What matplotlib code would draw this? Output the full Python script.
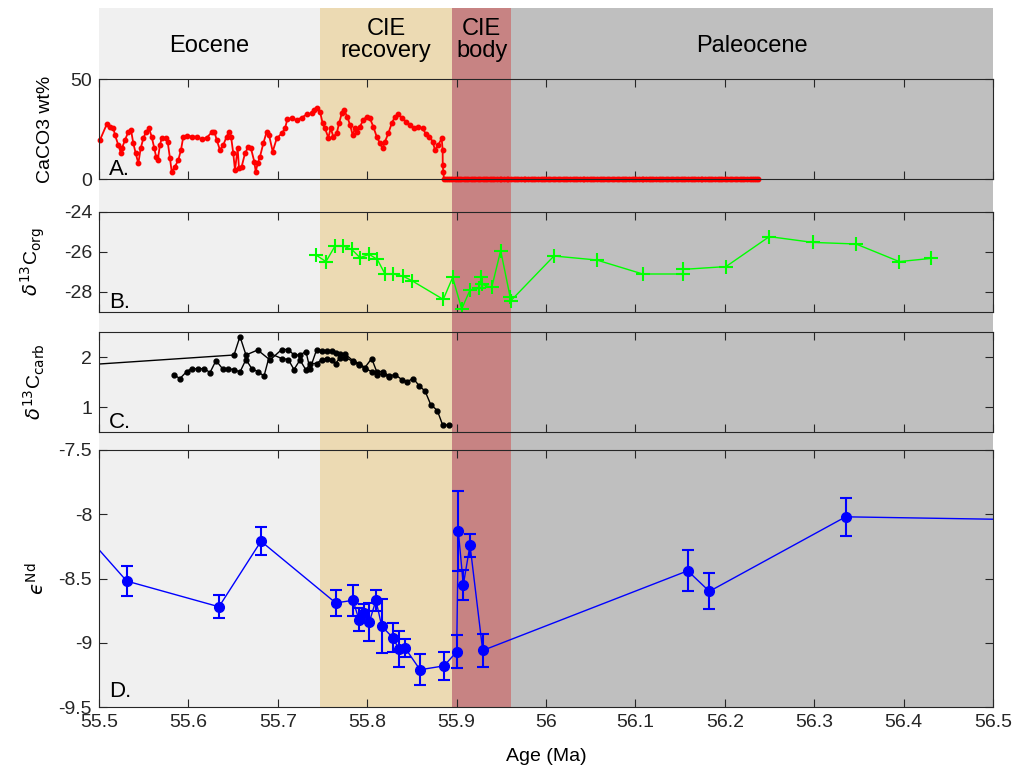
import matplotlib
matplotlib.use('Agg')
import matplotlib.pyplot as plt
import matplotlib.transforms as mtransforms

plt.rcParams['font.family'] = ['Liberation Sans', 'DejaVu Sans']
plt.rcParams['axes.unicode_minus'] = False

# --- background time intervals ---
region_names = ['Eocene', 'CIE\nrecovery', 'CIE\nbody', 'Paleocene']
region_edges = [55.5, 55.747, 55.895, 55.961, 56.5]
region_colors = ['#f0f0f0', '#ecdab3', '#c78383', '#bfbfbf']

# --- A. CaCO3 wt% ---
cc_age = [55.5011, 55.5086, 55.5123, 55.5160, 55.5179, 55.5216, 55.5246, 55.5257, 55.5291, 55.5328,
          55.5358, 55.5384, 55.5411, 55.5440, 55.5466, 55.5496, 55.5526, 55.5559, 55.5589, 55.5619,
          55.5638, 55.5657, 55.5682, 55.5701, 55.5746, 55.5768, 55.5794, 55.5813, 55.5850, 55.5887,
          55.5917, 55.5943, 55.5981, 55.6037, 55.6093, 55.6149, 55.6205, 55.6261, 55.6290, 55.6317,
          55.6353, 55.6390, 55.6428, 55.6454, 55.6477, 55.6502, 55.6521, 55.6551, 55.6566, 55.6596,
          55.6633, 55.6670, 55.6700, 55.6737, 55.6753, 55.6775, 55.6801, 55.6838, 55.6876, 55.6902,
          55.6943, 55.6988, 55.7044, 55.7081, 55.7107, 55.7155, 55.7211, 55.7267, 55.7323, 55.7379,
          55.7408, 55.7442, 55.7472, 55.7502, 55.7528, 55.7565, 55.7592, 55.7621, 55.7659, 55.7685,
          55.7715, 55.7740, 55.7777, 55.7808, 55.7838, 55.7864, 55.7889, 55.7919, 55.7956, 55.7994,
          55.8031, 55.8068, 55.8106, 55.8143, 55.8173, 55.8199, 55.8236, 55.8274, 55.8311, 55.8348,
          55.8386, 55.8434, 55.8479, 55.8523, 55.8572, 55.8621, 55.8658, 55.8695, 55.8733, 55.8758,
          55.8795, 55.8833, 55.8844, 55.8845, 55.8851, 55.8859,
          55.888, 55.890, 55.893, 55.895, 55.898, 55.900, 55.903, 55.905, 55.908, 55.911,
          55.913, 55.916, 55.918, 55.921, 55.924, 55.926, 55.929, 55.932, 55.934, 55.937,
          55.940, 55.942, 55.945, 55.948, 55.950, 55.953, 55.956, 55.958, 55.961, 55.964,
          55.966, 55.969, 55.972, 55.975, 55.977, 55.980, 55.983, 55.986, 55.988, 55.991,
          55.994, 55.997, 55.999, 56.002, 56.005, 56.008, 56.010, 56.013, 56.016, 56.019,
          56.021, 56.024, 56.027, 56.030, 56.032, 56.035, 56.038, 56.041, 56.043, 56.046,
          56.049, 56.052, 56.054, 56.057, 56.060, 56.063, 56.065, 56.068, 56.071, 56.074,
          56.076, 56.079, 56.082, 56.085, 56.087, 56.090, 56.093, 56.096, 56.098, 56.101,
          56.104, 56.107, 56.109, 56.112, 56.115, 56.118, 56.120, 56.123, 56.126, 56.129,
          56.131, 56.134, 56.137, 56.140, 56.142, 56.145, 56.148, 56.151, 56.153, 56.156,
          56.159, 56.162, 56.164, 56.167, 56.170, 56.173, 56.175, 56.178, 56.181, 56.184,
          56.186, 56.189, 56.192, 56.195, 56.197, 56.200, 56.203, 56.206, 56.208, 56.211,
          56.214, 56.217, 56.219, 56.222, 56.225, 56.228, 56.230, 56.233, 56.235, 56.2375]
cc_wt = [19.5, 27.3, 26.0, 25.5, 22.0, 17.0, 12.8, 15.5, 19.5, 23.7,
         24.5, 17.8, 12.8, 7.8, 15.3, 20.3, 23.7, 25.3, 21.2, 15.3,
         11.2, 9.5, 17.0, 20.3, 20.3, 18.7, 10.3, 3.7, 6.2, 9.5,
         14.5, 21.2, 21.7, 21.2, 21.2, 19.8, 20.7, 23.3, 23.7, 19.5,
         14.5, 17.0, 21.2, 23.7, 21.2, 12.8, 4.5, 15.3, 5.3, 6.2,
         12.8, 16.2, 15.3, 8.7, 3.7, 7.8, 11.2, 17.8, 23.7, 22.0,
         13.7, 20.3, 22.8, 25.3, 30.0, 30.3, 29.5, 30.7, 32.3, 32.8,
         34.5, 35.3, 33.7, 27.8, 25.3, 20.7, 25.3, 21.2, 22.8, 27.8,
         32.8, 34.5, 31.2, 27.0, 22.0, 25.3, 23.7, 26.2, 29.5, 31.2,
         30.3, 26.2, 21.2, 17.8, 15.3, 18.7, 22.8, 27.8, 31.2, 32.3,
         30.7, 28.7, 27.0, 25.7, 26.2, 25.3, 22.3, 21.2, 18.7, 14.5,
         17.0, 20.3, 14.5, 7.0, 3.7, 0.0,
         0, 0, 0, 0, 0, 0, 0, 0, 0, 0,
         0, 0, 0, 0, 0, 0, 0, 0, 0, 0,
         0, 0, 0, 0, 0, 0, 0, 0, 0, 0,
         0, 0, 0, 0, 0, 0, 0, 0, 0, 0,
         0, 0, 0, 0, 0, 0, 0, 0, 0, 0,
         0, 0, 0, 0, 0, 0, 0, 0, 0, 0,
         0, 0, 0, 0, 0, 0, 0, 0, 0, 0,
         0, 0, 0, 0, 0, 0, 0, 0, 0, 0,
         0, 0, 0, 0, 0, 0, 0, 0, 0, 0,
         0, 0, 0, 0, 0, 0, 0, 0, 0, 0,
         0, 0, 0, 0, 0, 0, 0, 0, 0, 0,
         0, 0, 0, 0, 0, 0, 0, 0, 0, 0,
         0, 0, 0, 0, 0, 0, 0, 0, 0, 0]

# --- B. d13C org ---
org_age = [55.7427, 55.7539, 55.7640, 55.7733, 55.7827, 55.7919, 55.8023, 55.8113, 55.8199, 55.8292,
           55.8397, 55.8498, 55.8851, 55.8956, 55.9057, 55.9150, 55.9250, 55.9275, 55.9285, 55.9393,
           55.9493, 55.9598, 55.9608, 56.0089, 56.0567, 56.1082, 56.1529, 56.1530, 56.2013, 56.2498,
           56.2983, 56.3468, 56.3952, 56.4306]
org_d13c = [-26.15, -26.48, -25.70, -25.70, -25.87, -26.28, -26.12, -26.37, -27.10, -27.10,
            -27.20, -27.43, -28.37, -27.27, -28.85, -27.90, -27.82, -27.27, -27.62, -27.77,
            -25.93, -28.23, -28.43, -26.20, -26.40, -27.10, -27.10, -26.87, -26.73, -25.23,
            -25.52, -25.60, -26.48, -26.32]

# --- C. d13C carb (two records) ---
carb1_age = [55.40, 55.6510, 55.6577, 55.6644, 55.6775, 55.6913, 55.7044, 55.7117, 55.7181, 55.7248,
             55.7315, 55.7360, 55.7435, 55.7491, 55.7554, 55.7603, 55.7648, 55.7696, 55.7752, 55.7845,
             55.7912, 55.7975, 55.8050, 55.8106, 55.8173, 55.8247, 55.8311, 55.8386, 55.8448, 55.8516,
             55.8583, 55.8647, 55.8710, 55.8784, 55.8844, 55.8915]
carb1_d13c = [1.74, 2.04, 2.41, 2.04, 2.14, 1.94, 2.15, 2.15, 2.04, 2.04,
              2.11, 1.76, 2.15, 2.13, 2.13, 2.12, 2.09, 2.06, 2.06, 1.92,
              1.87, 1.79, 1.97, 1.71, 1.71, 1.62, 1.65, 1.55, 1.51, 1.57,
              1.42, 1.32, 1.05, 0.93, 0.64, 0.64]
carb2_age = [55.5839, 55.5906, 55.5981, 55.6037, 55.6111, 55.6174, 55.6242, 55.6309, 55.6384, 55.6446,
             55.6510, 55.6577, 55.6644, 55.6708, 55.6775, 55.6846, 55.6913, 55.7044, 55.7117, 55.7181,
             55.7248, 55.7315, 55.7360, 55.7435, 55.7491, 55.7554, 55.7603, 55.7648, 55.7696, 55.7752,
             55.7845, 55.7912, 55.7975, 55.8050, 55.8106, 55.8173, 55.8247]
carb2_d13c = [1.64, 1.57, 1.71, 1.77, 1.76, 1.77, 1.69, 1.93, 1.76, 1.76,
              1.75, 1.70, 1.95, 1.77, 1.71, 1.62, 2.07, 1.97, 1.95, 1.75,
              1.94, 1.74, 1.87, 1.87, 1.95, 1.97, 1.95, 1.87, 1.99, 1.99,
              1.91, 1.84, 1.77, 1.71, 1.64, 1.66, 1.60]

# --- D. eps Nd ---
nd_age = [55.47, 55.5310, 55.6342, 55.6812, 55.7648, 55.7841, 55.7908, 55.7964, 55.8023, 55.8098,
          55.8162, 55.8285, 55.8356, 55.8423, 55.8591, 55.8859, 55.9001, 55.9019, 55.9075, 55.9150,
          55.9292, 56.1585, 56.1827, 56.3352, 56.60]
nd_eps = [-8.04, -8.52, -8.72, -8.21, -8.69, -8.67, -8.82, -8.77, -8.84, -8.67,
          -8.87, -8.96, -9.05, -9.04, -9.21, -9.18, -9.07, -8.13, -8.55, -8.24,
          -9.06, -8.44, -8.60, -8.02, -8.05]
nd_err = [0.0, 0.12, 0.09, 0.11, 0.10, 0.12, 0.09, 0.07, 0.15, 0.08,
          0.21, 0.11, 0.14, 0.07, 0.12, 0.11, 0.13, 0.31, 0.12, 0.09,
          0.13, 0.16, 0.14, 0.15, 0.0]

x_ticks = [55.5, 55.6, 55.7, 55.8, 55.9, 56.0, 56.1, 56.2, 56.3, 56.4, 56.5]
x_ticklabels = ['55.5', '55.6', '55.7', '55.8', '55.9', '56', '56.1', '56.2', '56.3', '56.4', '56.5']

W, H = 1017, 771
fig = plt.figure(figsize=(W / 100, H / 100), dpi=100)
left, width = 99 / W, 894 / W


def box(top, bottom):
    return [left, 1 - bottom / H, width, (bottom - top) / H]


def style(ax, letter):
    ax.set_facecolor('none')
    ax.set_xlim(55.5, 56.5)
    ax.set_xticks(x_ticks)
    ax.tick_params(direction='in', top=True, right=True, length=6, width=0.8,
                   colors='#262626', labelsize=14, pad=5)
    for s in ax.spines.values():
        s.set_color('#262626')
        s.set_linewidth(0.8)
    ax.text(0.011, 0.04, letter, transform=ax.transAxes, fontsize=16,
            va='baseline', ha='left', color='black')


# background shading
bg = fig.add_axes(box(7.5, 707))
bg.set_xlim(55.5, 56.5)
bg.set_ylim(0, 1)
bg.axis('off')
trans = mtransforms.blended_transform_factory(bg.transData, bg.transAxes)
for i, name in enumerate(region_names):
    x0, x1 = region_edges[i], region_edges[i + 1]
    bg.axvspan(x0, x1, color=region_colors[i], lw=0)
    y = 0.953 if '\n' in name else 0.945
    bg.text((x0 + x1) / 2, y, name, transform=trans, ha='center', va='center',
            fontsize=17, linespacing=1.0)

# A
ax_a = fig.add_axes(box(79, 179))
ax_a.plot(cc_age, cc_wt, '-o', color='red', lw=1.3, ms=3.2, clip_on=False)
ax_a.set_ylim(0, 50)
ax_a.set_yticks([0, 50])
ax_a.set_xticklabels([])
style(ax_a, 'A.')
ax_a.set_ylabel('CaCO3 wt%', fontsize=14)
ax_a.yaxis.set_label_coords(-0.05, 0.5)

# B
ax_b = fig.add_axes(box(212, 312))
ax_b.plot(org_age, org_d13c, '-+', color='#00ff00', lw=1, ms=10, mew=1.5)
ax_b.set_ylim(-29, -24)
ax_b.set_yticks([-28, -26, -24])
ax_b.set_xticklabels([])
style(ax_b, 'B.')
ax_b.set_ylabel(r'$\delta^{13}$C$_{\rm org}$', fontsize=14)
ax_b.yaxis.set_label_coords(-0.058, 0.5)

# C
ax_c = fig.add_axes(box(332, 432))
ax_c.plot(carb1_age, carb1_d13c, '-o', color='black', lw=1, ms=3.5)
ax_c.plot(carb2_age, carb2_d13c, '-o', color='black', lw=1, ms=3.5)
ax_c.set_ylim(0.5, 2.5)
ax_c.set_yticks([1, 2])
ax_c.set_xticklabels([])
style(ax_c, 'C.')
ax_c.set_ylabel(r'$\delta^{13}$C$_{\rm carb}$', fontsize=14)
ax_c.yaxis.set_label_coords(-0.058, 0.5)

# D
ax_d = fig.add_axes(box(450, 707))
ax_d.errorbar(nd_age, nd_eps, yerr=nd_err, fmt='-o', color='blue', lw=1, ms=7,
              elinewidth=1.5, capsize=4.3, capthick=1.5)
ax_d.set_ylim(-9.5, -7.5)
ax_d.set_yticks([-9.5, -9, -8.5, -8, -7.5])
ax_d.set_yticklabels(['-9.5', '-9', '-8.5', '-8', '-7.5'])
style(ax_d, 'D.')
ax_d.set_xticklabels(x_ticklabels)
ax_d.set_ylabel('$\u03f5^{\\rm Nd}$', fontsize=14)
ax_d.yaxis.set_label_coords(-0.057, 0.5)
ax_d.set_xlabel('Age (Ma)', fontsize=14)
ax_d.xaxis.set_label_coords(0.5, -0.16)

fig.savefig('out.png', dpi=100)
